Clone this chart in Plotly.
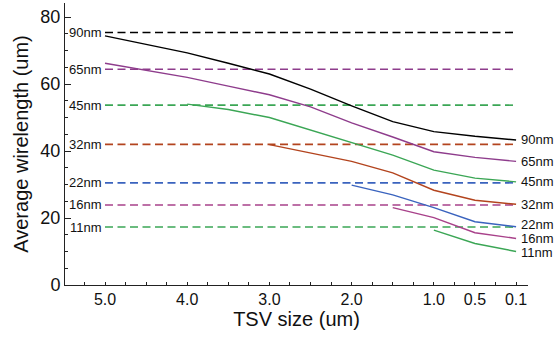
import plotly.graph_objects as go

# TSV size categories (evenly spaced along the axis)
sizes = ["5.0", "4.5", "4.0", "3.5", "3.0", "2.5", "2.0", "1.5", "1.0", "0.5", "0.1"]
tick_labels = ["5.0", "4.0", "3.0", "2.0", "1.0", "0.5", "0.1"]
major_unlabeled = ["4.5", "3.5", "2.5", "1.5", "0.5"]

nodes = ["90nm", "65nm", "45nm", "32nm", "22nm", "16nm", "11nm"]
colors = ["#000000", "#8E3C8C", "#3BA655", "#B3441E", "#3A63BE", "#A8418A", "#3BA655"]
label_shift = [0, 0, 0, 0, 2.5, 0, -1]

# 2D reference wirelength (dashed)
ref_2d = [75.4, 64.4, 53.7, 42.0, 30.5, 23.9, 17.3]

# 3D average wirelength series; each starts at the given TSV size
start_90, w90 = "5.0", [74.4, 71.8, 69.3, 66.2, 63.0, 58.5, 53.5, 48.8, 45.8, 44.4, 43.3]
start_65, w65 = "5.0", [66.2, 64.1, 62.0, 59.4, 56.8, 53.2, 48.4, 44.2, 39.8, 38.1, 36.9]
start_45, w45 = "4.0", [54.0, 52.4, 50.0, 46.3, 42.6, 38.8, 34.3, 31.9, 30.8]
start_32, w32 = "3.0", [41.9, 39.4, 36.9, 33.5, 28.3, 25.3, 24.1]
start_22, w22 = "2.0", [29.8, 26.9, 23.1, 18.9, 17.4]
start_16, w16 = "1.5", [23.1, 20.1, 15.6, 13.9]
start_11, w11 = "1.0", [16.4, 12.4, 10.0]

series = [(start_90, w90), (start_65, w65), (start_45, w45), (start_32, w32),
          (start_22, w22), (start_16, w16), (start_11, w11)]

pos = {s: i for i, s in enumerate(sizes)}
FONT = "Liberation Sans, Arial, sans-serif"

fig = go.Figure()
annotations = []

for name, col, ref in zip(nodes, colors, ref_2d):
    fig.add_trace(go.Scatter(
        x=[pos[sizes[0]], pos[sizes[-1]]], y=[ref, ref], mode="lines",
        line=dict(color=col, width=1.6, dash="8px,4.5px"),
        showlegend=False, hoverinfo="skip"))
    annotations.append(dict(x=pos[sizes[0]], y=ref, xref="x", yref="y",
                            text=name, showarrow=False, xanchor="right",
                            xshift=-1, font=dict(size=13, color="#111", family=FONT)))

for name, col, sh, (start, vals) in zip(nodes, colors, label_shift, series):
    i0 = pos[start]
    xs = [pos[s] for s in sizes[i0:i0 + len(vals)]]
    fig.add_trace(go.Scatter(
        x=xs, y=vals, mode="lines", line=dict(color=col, width=1.4),
        showlegend=False, name=name))
    annotations.append(dict(x=xs[-1], y=vals[-1], xref="x", yref="y",
                            text=name, showarrow=False, xanchor="left",
                            xshift=3, yshift=sh,
                            font=dict(size=13, color="#111", family=FONT)))

xr = [-0.973, 10.29]
fig.update_layout(
    width=558, height=337, autosize=False,
    margin=dict(l=65, r=30, t=3, b=52),
    paper_bgcolor="white", plot_bgcolor="white",
    font=dict(family=FONT, color="#111"),
    annotations=annotations,
    xaxis=dict(
        range=xr, showgrid=False, zeroline=False, automargin=False,
        showline=True, linecolor="#222", linewidth=1,
        tickvals=[pos[t] for t in tick_labels], ticktext=tick_labels,
        ticks="inside", ticklen=3, tickcolor="#222",
        tickfont=dict(size=16, family=FONT, color="#111"),
        minor=dict(tick0=0, dtick=0.5, ticks="inside", ticklen=3, tickcolor="#222"),
        title=dict(text="TSV size (um)", font=dict(size=20, family=FONT, color="#111"),
                   standoff=4),
    ),
    xaxis2=dict(
        range=xr, overlaying="x", anchor="y", side="bottom", automargin=False,
        showgrid=False, zeroline=False, showline=False,
        tickvals=[pos[t] for t in major_unlabeled], showticklabels=False,
        ticks="inside", ticklen=5, tickcolor="#222",
    ),
    yaxis=dict(
        range=[0, 84.2], showgrid=False, zeroline=False, automargin=False,
        showline=True, linecolor="#222", linewidth=1,
        tick0=0, dtick=20, ticks="inside", ticklen=6, tickcolor="#222",
        tickfont=dict(size=18, family=FONT, color="#111"),
        minor=dict(tick0=0, dtick=5, ticks="inside", ticklen=3, tickcolor="#222"),
        title=dict(text="Average wirelength (um)", font=dict(size=20, family=FONT, color="#111"),
                   standoff=6),
    ),
)

fig.write_html("out.html", config={"displayModeBar": False},
               post_script="document.body.style.margin='0px';")
